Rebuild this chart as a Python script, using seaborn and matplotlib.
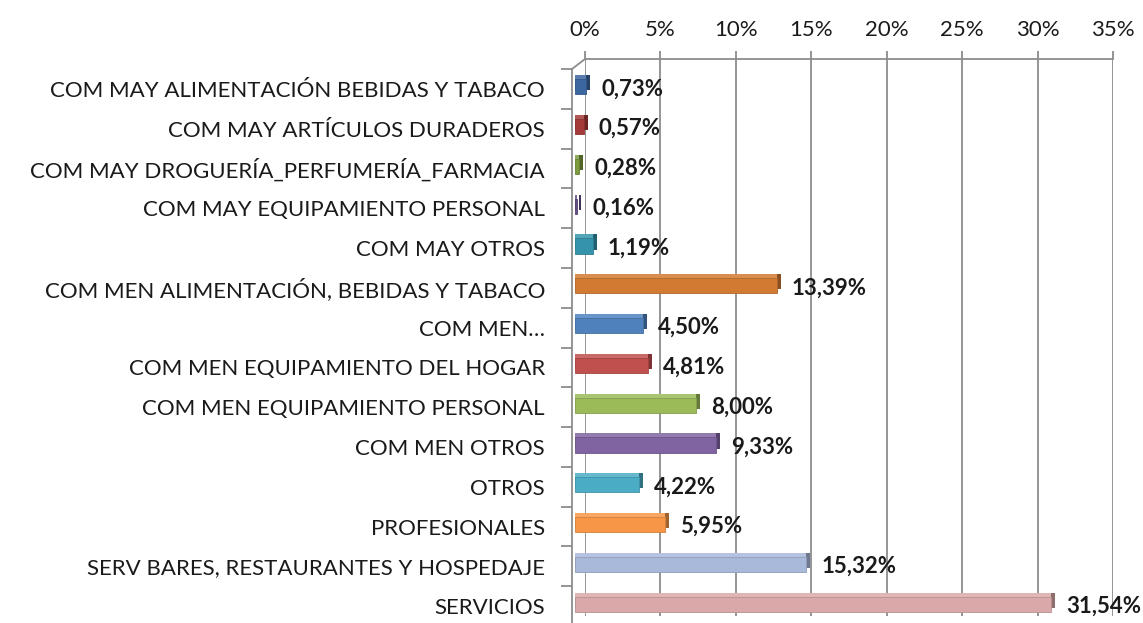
import matplotlib
matplotlib.use("Agg")
import matplotlib.pyplot as plt
import matplotlib.transforms as mtrans
from matplotlib.patches import Rectangle
import matplotlib.colors as mcolors
import numpy as np
import pandas as pd
import seaborn as sns

categories = [
    "COM MAY ALIMENTACIÓN BEBIDAS Y TABACO",
    "COM MAY ARTÍCULOS DURADEROS",
    "COM MAY DROGUERÍA_PERFUMERÍA_FARMACIA",
    "COM MAY EQUIPAMIENTO PERSONAL",
    "COM MAY OTROS",
    "COM MEN ALIMENTACIÓN, BEBIDAS Y TABACO",
    "COM MEN…",
    "COM MEN EQUIPAMIENTO DEL HOGAR",
    "COM MEN EQUIPAMIENTO PERSONAL",
    "COM MEN OTROS",
    "OTROS",
    "PROFESIONALES",
    "SERV BARES, RESTAURANTES Y HOSPEDAJE",
    "SERVICIOS",
]
values = [0.73, 0.57, 0.28, 0.16, 1.19, 13.39, 4.50, 4.81, 8.00, 9.33, 4.22, 5.95, 15.32, 31.54]
colors = [
    "#3B66A0", "#A43B38", "#7C9B3E", "#644E86", "#3594AC", "#D27A32",
    "#4F81BD", "#C0504D", "#9BBB59", "#8064A2", "#4BACC6", "#F79646",
    "#A9B9DA", "#DAA8A8",
]
x_ticks = [0, 5, 10, 15, 20, 25, 30, 35]
x_tick_labels = [f"{t}%" for t in x_ticks]

sns.set_theme(style="white")
plt.rcParams["font.family"] = ["Lato", "DejaVu Sans"]

W, H = 1143, 623
DPI = 100
FS = 16
GRAY = "#8c8c8c"
TXT = "#1a1a1a"

fig = plt.figure(figsize=(W / DPI, H / DPI), dpi=DPI)
fig.patch.set_facecolor("white")
ax = fig.add_axes([585 / W, 1 - 616 / H, (1113 - 585) / W, (616 - 59) / H])


def off(dx_px, dy_px):
    return mtrans.ScaledTranslation(dx_px / DPI, -dy_px / DPI, fig.dpi_scale_trans)


def mix(c, target, amt):
    c = np.array(mcolors.to_rgb(c))
    t = np.array(mcolors.to_rgb(target))
    return tuple(c + (t - c) * amt)


df = pd.DataFrame({"cat": categories, "val": values})
sns.barplot(data=df, x="val", y="cat", hue="cat", palette=colors, legend=False,
            orient="h", width=0.38, saturation=1, ax=ax)

# pseudo 3D extrusion of bars
for p in list(ax.patches):
    fc = p.get_facecolor()
    x, y, w, h = p.get_x(), p.get_y(), p.get_width(), p.get_height()
    side = Rectangle((x, y), w, h, facecolor=mix(fc, "black", 0.35), edgecolor="none",
                     transform=ax.transData + off(-6, 4), zorder=2.1, clip_on=False)
    top = Rectangle((x, y), w, h, facecolor=mix(fc, "white", 0.15), edgecolor="none",
                    transform=ax.transData + off(-10, 4), zorder=2.2, clip_on=False)
    ax.add_patch(side)
    ax.add_patch(top)
    p.set_transform(ax.transData + off(-10, 8))
    p.set_edgecolor(mix(fc, "black", 0.15))
    p.set_linewidth(0.6)
    p.set_zorder(2.3)
    p.set_clip_on(False)

ax.set_xlim(0, 35)
ax.set_ylim(len(categories) - 0.5, -0.5)
ax.set_xlabel("")
ax.set_ylabel("")

# x axis on top with gridlines (back wall)
ax.set_xticks(x_ticks)
ax.set_xticklabels(x_tick_labels)
ax.xaxis.tick_top()
ax.tick_params(axis="x", top=True, bottom=False, length=6, width=1.3, color=GRAY,
               pad=8, labelsize=FS, labelcolor=TXT)
ax.xaxis.grid(True, color=GRAY, lw=1.3)
ax.yaxis.grid(False)
ax.set_axisbelow(True)
for s in ["left", "right", "bottom"]:
    ax.spines[s].set_visible(False)
ax.spines["top"].set_color(GRAY)
ax.spines["top"].set_linewidth(1.3)

# category labels (front plane)
ax.set_yticks(range(len(categories)))
ax.set_yticklabels(categories)
ax.tick_params(axis="y", left=False, length=0, pad=28.8, labelsize=FS, labelcolor=TXT)
for lbl in ax.get_yticklabels():
    lbl.set_transform(lbl.get_transform() + off(0, 10))

# front left axis with boundary ticks
ty = ax.get_yaxis_transform()
bounds = np.arange(-0.5, len(categories) + 0.5, 1)
ax.plot([0, 0], [bounds[0], bounds[-1]], color=GRAY, lw=1.3,
        transform=ty + off(-13, 10), clip_on=False)
ax.plot(np.zeros(len(bounds)), bounds, ls="none", marker=0, ms=8, mew=1.3, color=GRAY,
        transform=ty + off(-13, 10), clip_on=False)
ax.annotate("", xy=(0, bounds[0]), xycoords=ty, xytext=(-13 * 0.72, -10 * 0.72),
            textcoords="offset points",
            arrowprops=dict(arrowstyle="-", color=GRAY, lw=1.3, shrinkA=0, shrinkB=0))

# data labels
for i, v in enumerate(values):
    ax.annotate(f"{v:.2f}".replace(".", ",") + "%", xy=(v, i), xycoords="data",
                xytext=(5 * 0.72, -10 * 0.72), textcoords="offset points",
                ha="left", va="center", fontsize=FS, fontweight="bold", color=TXT,
                annotation_clip=False)

fig.savefig("out.png", dpi=DPI)
